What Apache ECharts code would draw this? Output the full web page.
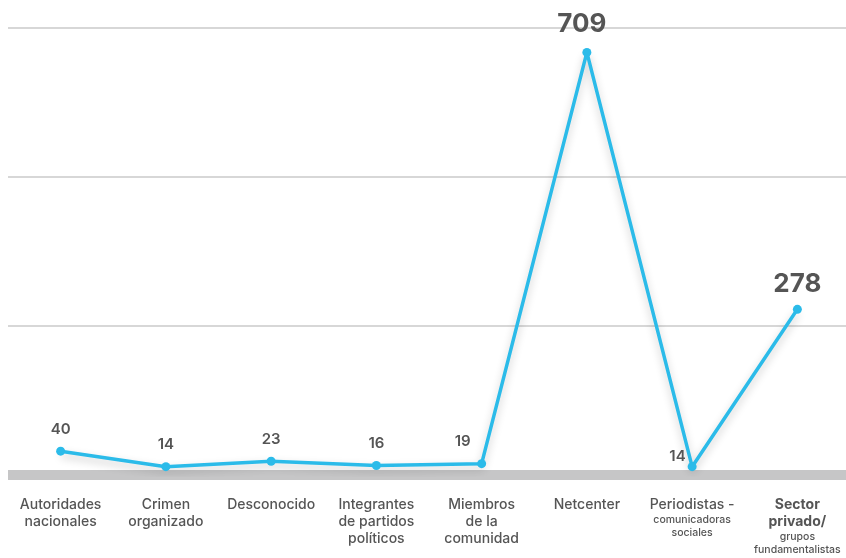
<!DOCTYPE html>
<html><head><meta charset="utf-8">
<script src="https://cdn.jsdelivr.net/npm/echarts@6/dist/echarts.min.js"></script>
<style>html,body{margin:0;padding:0;background:#fff;overflow:hidden}#c{width:850px;height:558px}</style>
</head><body><div id="c"></div>
<script>
const categories = ['Autoridades\nnacionales','Crimen\norganizado','Desconocido','Integrantes\nde partidos\npolíticos','Miembros\nde la\ncomunidad','Netcenter','Periodistas -\n{s|comunicadoras}\n{s|sociales}','{b|Sector}\n{b|privado/}\n{s|grupos}\n{s|fundamentalistas}'];
const values = [40,14,23,16,19,709,14,278];
const yTicks = [0,250,500,750];

const labelStyles = {
  0:{offset:[0,0]},1:{offset:[0,0]},2:{offset:[0,0]},3:{offset:[0,0]},
  4:{offset:[-19,0]},
  5:{offset:[-5,-1],fontSize:26,fontWeight:'bold'},
  6:{position:'left',offset:[8,-10]},
  7:{offset:[0,2],fontSize:26,fontWeight:'bold'}
};
const data = values.map((v,i)=>({value:v,label:Object.assign({},labelStyles[i])}));

const chart = echarts.init(document.getElementById('c'));
chart.setOption({
  animation:false,
  grid:{left:8,right:0,top:28,bottom:83,containLabel:false},
  xAxis:{type:'category',data:categories,boundaryGap:true,
    axisLine:{lineStyle:{color:'#c6c6c7',width:10,cap:'butt'}},
    axisTick:{show:false},
    axisLabel:{interval:0,margin:21,color:'#555',fontFamily:'Inter',fontSize:14,fontWeight:500,lineHeight:17,
      rich:{s:{fontSize:10.5,lineHeight:13,color:'#555',fontFamily:'Inter',fontWeight:500},
            b:{fontSize:14,fontWeight:'bold',lineHeight:17,color:'#555',fontFamily:'Inter'}}}
  },
  yAxis:{type:'value',min:yTicks[0],max:yTicks[yTicks.length-1],interval:250,
    axisLabel:{show:false},axisLine:{show:false},axisTick:{show:false},
    splitLine:{lineStyle:{color:'#cacaca',width:1.5}}
  },
  series:[{type:'line',data:data,symbol:'circle',symbolSize:9,
    lineStyle:{color:'#2bbbe9',width:3.5,shadowColor:'rgba(0,0,0,0.22)',shadowBlur:8,shadowOffsetY:4},
    itemStyle:{color:'#2bbbe9'},
    label:{show:true,position:'top',distance:10,color:'#555',fontFamily:'Inter',fontSize:15,fontWeight:600}
  }]
});
</script></body></html>
